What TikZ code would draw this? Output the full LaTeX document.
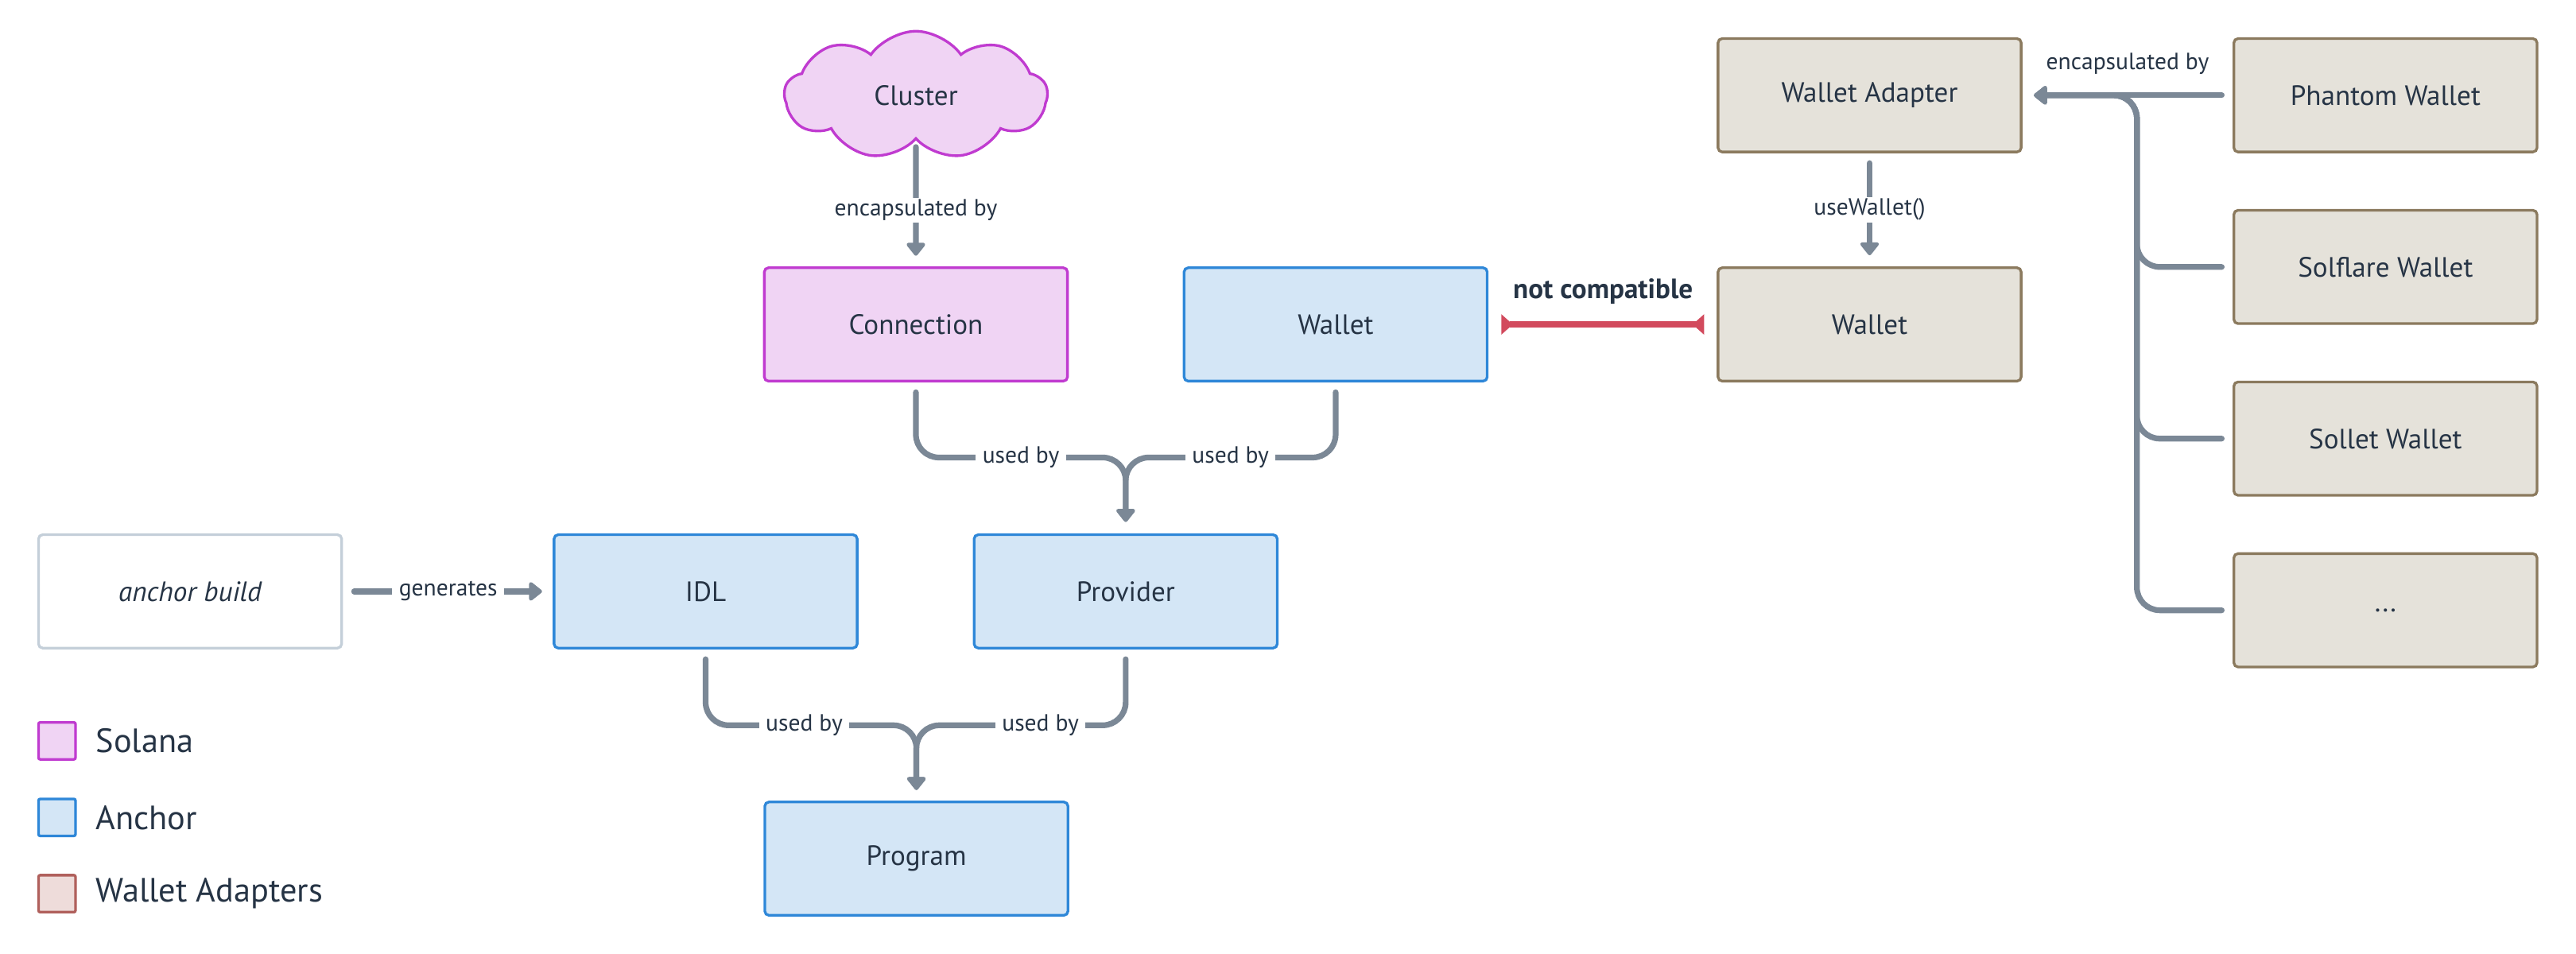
\documentclass[tikz,border=0pt]{standalone}
\usepackage{fontspec}
\setmainfont{PT Sans}
\usetikzlibrary{arrows.meta,shapes.symbols}
\definecolor{txt}{HTML}{263445}
\definecolor{solfill}{HTML}{F0D4F4}
\definecolor{solline}{HTML}{C03BD0}
\definecolor{ancfill}{HTML}{D4E6F6}
\definecolor{ancline}{HTML}{2E87D8}
\definecolor{wadfill}{HTML}{E5E2DA}
\definecolor{wadline}{HTML}{8B7A5E}
\definecolor{legwfill}{HTML}{EEDCDA}
\definecolor{legwline}{HTML}{B0605C}
\definecolor{buildline}{HTML}{C4CFD9}
\definecolor{arrowgray}{HTML}{7B8896}
\definecolor{redline}{HTML}{D24A5D}
\tikzset{
  box/.style={rectangle, rounded corners=2.5pt, minimum width=184.5pt, minimum height=69pt, line width=1.6pt, text=txt, font=\fontsize{17}{19}\selectfont},
  solbox/.style={box, fill=solfill, draw=solline},
  ancbox/.style={box, fill=ancfill, draw=ancline},
  wadbox/.style={box, fill=wadfill, draw=wadline},
  conn/.style={draw=arrowgray, line width=3.5pt, line cap=round, rounded corners=14pt,
     -{Triangle[width=13pt,length=8.6pt,round]}},
  lab/.style={fill=white, text=txt, font=\fontsize{14.3}{16}\selectfont, inner xsep=4pt, inner ysep=1pt},
  legsq/.style={rectangle, rounded corners=1pt, minimum width=22.5pt, minimum height=22.5pt, line width=1.6pt},
  legtxt/.style={anchor=west, text=txt, font=\fontsize{20.5}{23}\selectfont, inner sep=0pt},
}
\begin{document}
\begin{tikzpicture}[x=1pt,y=-1pt]
\useasboundingbox (0,0) rectangle (1568,580.7);
% nodes
\node[cloud, cloud puffs=9, cloud puff arc=110, aspect=2.1, minimum width=160pt, minimum height=78pt,
  fill=solfill, draw=solline, line width=1.6pt, text=txt, font=\fontsize{17}{19}\selectfont] (cluster) at (557.5,58) {Cluster};
\node[solbox] (conn) at (557.5,197.5) {Connection};
\node[ancbox] (walleta) at (813,197.5) {Wallet};
\node[wadbox] (walletb) at (1138,197.5) {Wallet};
\node[wadbox] (wadapter) at (1138,58) {Wallet Adapter};
\node[wadbox] (phantom) at (1452,58) {Phantom Wallet};
\node[wadbox] (solflare) at (1452,162.5) {Solflare Wallet};
\node[wadbox] (sollet) at (1452,267) {Sollet Wallet};
\node[wadbox] (more) at (1452,371.5) {...};
\node[box, fill=white, draw=buildline, font=\fontsize{17}{19}\selectfont\itshape] (build) at (115.7,360) {anchor build};
\node[ancbox] (idl) at (429.5,360) {IDL};
\node[ancbox] (provider) at (685.2,360) {Provider};
\node[ancbox] (program) at (557.8,522.7) {Program};
% connectors
\draw[conn, shorten <=4pt, shorten >=6.5pt] (cluster.south) -- (conn.north);
\node[lab] (l1) at (557.5,128) {encapsulated by};
\draw[conn, shorten <=6pt, shorten >=7pt] (conn.south) -- (557.5,278.5) -- (685.2,278.5) -- (provider.north);
\draw[conn, shorten <=6pt, shorten >=7pt] (walleta.south) -- (813,278.5) -- (685.2,278.5) -- (provider.north);
\node[lab] (l2) at (621.4,278.5) {used by};
\node[lab] (l3) at (749,278.5) {used by};
\draw[conn, shorten <=6pt, shorten >=6.5pt] (idl.south) -- (429.5,441.5) -- (557.8,441.5) -- (program.north);
\draw[conn, shorten <=6pt, shorten >=6.5pt] (provider.south) -- (685.2,441.5) -- (557.8,441.5) -- (program.north);
\node[lab] (l4) at (489.5,441.5) {used by};
\node[lab] (l5) at (633.3,441.5) {used by};
\draw[conn, shorten <=6.8pt, shorten >=6.5pt] (build.east) -- (idl.west);
\node[lab] (l6) at (272.8,360) {generates};
\draw[conn, shorten <=6pt, shorten >=6.8pt] (wadapter.south) -- (walletb.north);
\node[lab] (l7) at (1138,127.6) {useWallet()};
\draw[conn, shorten <=6.6pt, shorten >=7pt] (phantom.west) -- (wadapter.east);
\draw[conn, shorten <=6.6pt, shorten >=7pt] (solflare.west) -- (1300.7,162.5) -- (1300.7,58) -- (wadapter.east);
\draw[conn, shorten <=6.6pt, shorten >=7pt] (sollet.west) -- (1300.7,267) -- (1300.7,58) -- (wadapter.east);
\draw[conn, shorten <=6.6pt, shorten >=7pt] (more.west) -- (1300.7,371.5) -- (1300.7,58) -- (wadapter.east);
\node[lab, fill=none] (l8) at (1295,38.9) {encapsulated by};
\draw[draw=redline, line width=3.5pt, {Triangle[reversed,width=12pt,length=7pt]}-{Triangle[reversed,width=12pt,length=7pt]}, shorten <=7.8pt, shorten >=7.7pt] (walleta.east) -- (walletb.west);
\node[text=txt, font=\fontsize{17}{19}\selectfont\bfseries] (nc) at (975.7,177.5) {not compatible};
% legend
\node[legsq, fill=solfill, draw=solline] (lg1) at (34.7,451) {};
\node[legsq, fill=ancfill, draw=ancline] (lg2) at (34.7,497.6) {};
\node[legsq, fill=legwfill, draw=legwline] (lg3) at (34.7,544) {};
\node[legtxt] (lt1) at (58.2,451) {Solana};
\node[legtxt] (lt2) at (58.2,497.6) {Anchor};
\node[legtxt] (lt3) at (58.2,544) {Wallet Adapters};
\end{tikzpicture}
\end{document}
